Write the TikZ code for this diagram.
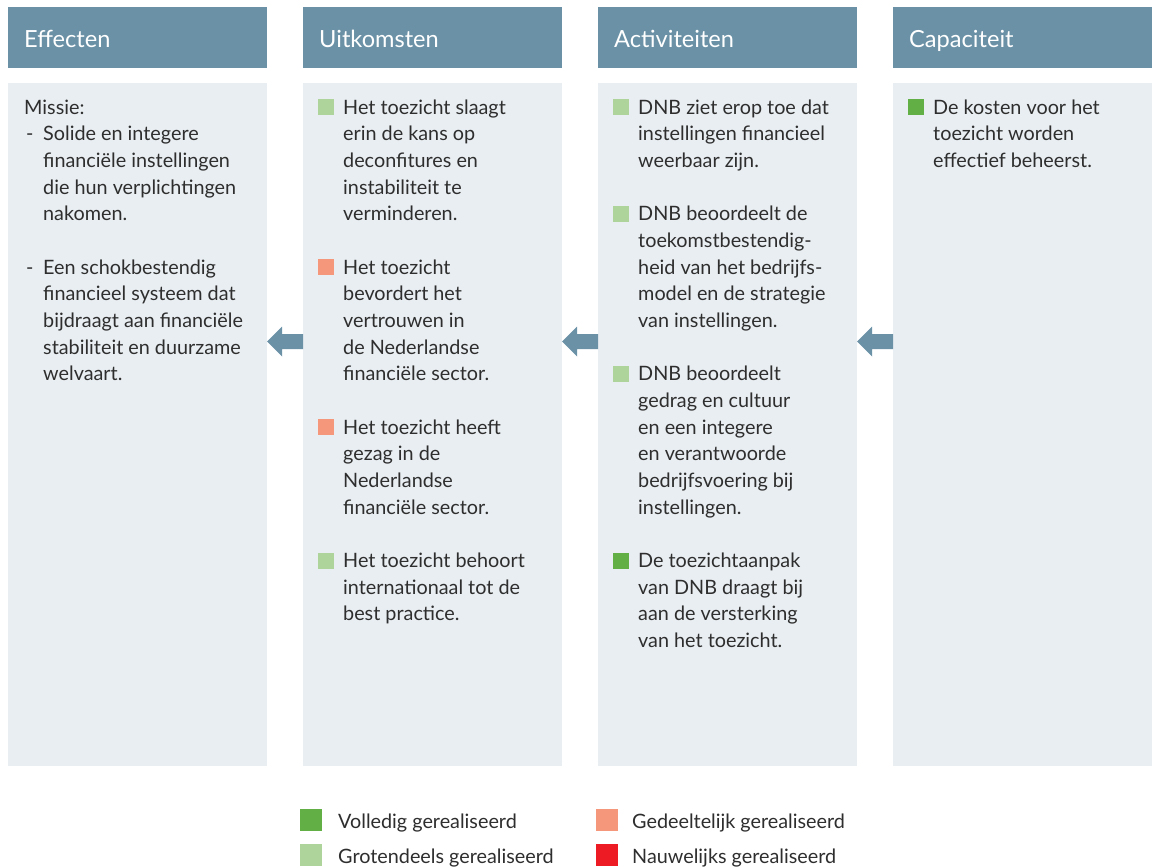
\documentclass[tikz,border=0pt]{standalone}
\usepackage{fontspec}
\setmainfont{Lato}
\definecolor{headblue}{HTML}{6A91A6}
\definecolor{panel}{HTML}{E9EEF2}
\definecolor{ink}{HTML}{2E2E2E}
\definecolor{fullgreen}{HTML}{62B045}
\definecolor{mostgreen}{HTML}{AED39B}
\definecolor{partsalmon}{HTML}{F4977A}
\definecolor{hardlyred}{HTML}{ED1C24}
\newcommand{\bodyfont}{\fontsize{19.8}{26.67}\selectfont}
\newcommand{\headfont}{\fontsize{23.6}{28}\selectfont}
\tikzset{
  header/.style={fill=headblue, draw=none},
  panelbox/.style={fill=panel, draw=none},
  headtext/.style={anchor=base west, inner sep=0pt, text=white, font=\headfont},
  itemtext/.style={anchor=north west, inner sep=0pt, align=left, text=ink, font=\bodyfont},
  marker/.style={minimum size=16pt, inner sep=0pt, anchor=north west, draw=none},
  legmark/.style={minimum size=22pt, inner sep=0pt, anchor=north west, draw=none},
  legtext/.style={anchor=base west, inner sep=0pt, text=ink, font=\bodyfont},
  flowarrow/.style={fill=headblue, draw=none}
}
% first baseline of the body text and line pitch
\def\bl{114}
\def\lp{26.667}
\begin{document}
\begin{tikzpicture}[x=1pt,y=-1pt]
\path[use as bounding box] (0,0) rectangle (1157,867);

% four columns: header bar and panel
\foreach \i/\name in {0/Effecten,1/Uitkomsten,2/Activiteiten,3/Capaciteit}{
  \pgfmathsetmacro{\xl}{8+295*\i}
  \fill[header] (\xl,7) rectangle ++(259,61);
  \fill[panelbox] (\xl,83) rectangle ++(259,683);
  \node[headtext] (head\i) at (\xl+16,47.5) {\name};
}

% arrows pointing from right column to left column
\foreach \i in {0,1,2}{
  \pgfmathsetmacro{\xt}{267+295*\i}
  \fill[flowarrow] (\xt,341.5) -- (\xt+15,326.5) -- (\xt+15,334) -- (\xt+36,334)
     -- (\xt+36,349) -- (\xt+15,349) -- (\xt+15,356.5) -- cycle;
}

% line n baseline: \bl + n*\lp ; text node top sits 18.67 above baseline
\newcommand{\itemat}[5]{% #1 name, #2 x, #3 line, #4 marker colour, #5 text
  \pgfmathsetmacro{\yb}{\bl+#3*\lp}
  \node[marker, fill=#4] (m#1) at (#2-25,\yb-15) {};
  \node[itemtext] (#1) at (#2,\yb-18.67) {\strut #5};
}

% Effecten
\node[itemtext] (missie) at (24,\bl-18.67) {\strut Missie:};
\pgfmathsetmacro{\yA}{\bl+1*\lp}
\pgfmathsetmacro{\yB}{\bl+6*\lp}
\node[itemtext] (dashA) at (26,\yA-18.67) {\strut -};
\node[itemtext] (effA) at (43,\yA-18.67) {\strut Solide en integere\\financiële instellingen\\die hun verplichtingen\\nakomen.};
\node[itemtext] (dashB) at (26,\yB-18.67) {\strut -};
\node[itemtext] (effB) at (43,\yB-18.67) {\strut Een schokbestendig\\financieel systeem dat\\bijdraagt aan financiële\\stabiliteit en duurzame\\welvaart.};

% Uitkomsten
\itemat{uitA}{343}{0}{mostgreen}{Het toezicht slaagt\\erin de kans op\\deconfitures en\\instabiliteit te\\verminderen.}
\itemat{uitB}{343}{6}{partsalmon}{Het toezicht\\bevordert het\\vertrouwen in\\de Nederlandse\\financiële sector.}
\itemat{uitC}{343}{12}{partsalmon}{Het toezicht heeft\\gezag in de\\Nederlandse\\financiële sector.}
\itemat{uitD}{343}{17}{mostgreen}{Het toezicht behoort\\internationaal tot de\\best practice.}

% Activiteiten
\itemat{actA}{638}{0}{mostgreen}{DNB ziet erop toe dat\\instellingen financieel\\weerbaar zijn.}
\itemat{actB}{638}{4}{mostgreen}{DNB beoordeelt de\\toekomstbestendig-\\heid van het bedrijfs-\\model en de strategie\\van instellingen.}
\itemat{actC}{638}{10}{mostgreen}{DNB beoordeelt\\gedrag en cultuur\\en een integere\\en verantwoorde\\bedrijfsvoering bij\\instellingen.}
\itemat{actD}{638}{17}{fullgreen}{De toezichtaanpak\\van DNB draagt bij\\aan de versterking\\van het toezicht.}

% Capaciteit
\itemat{capA}{933}{0}{fullgreen}{De kosten voor het\\toezicht worden\\effectief beheerst.}

% legend
\node[legmark, fill=fullgreen] (lg1) at (300,809) {};
\node[legtext] (lt1) at (338,828) {Volledig gerealiseerd};
\node[legmark, fill=mostgreen] (lg2) at (300,844) {};
\node[legtext] (lt2) at (338,863) {Grotendeels gerealiseerd};
\node[legmark, fill=partsalmon] (lg3) at (596,809) {};
\node[legtext] (lt3) at (632,828) {Gedeeltelijk gerealiseerd};
\node[legmark, fill=hardlyred] (lg4) at (596,844) {};
\node[legtext] (lt4) at (632,863) {Nauwelijks gerealiseerd};
\end{tikzpicture}
\end{document}
